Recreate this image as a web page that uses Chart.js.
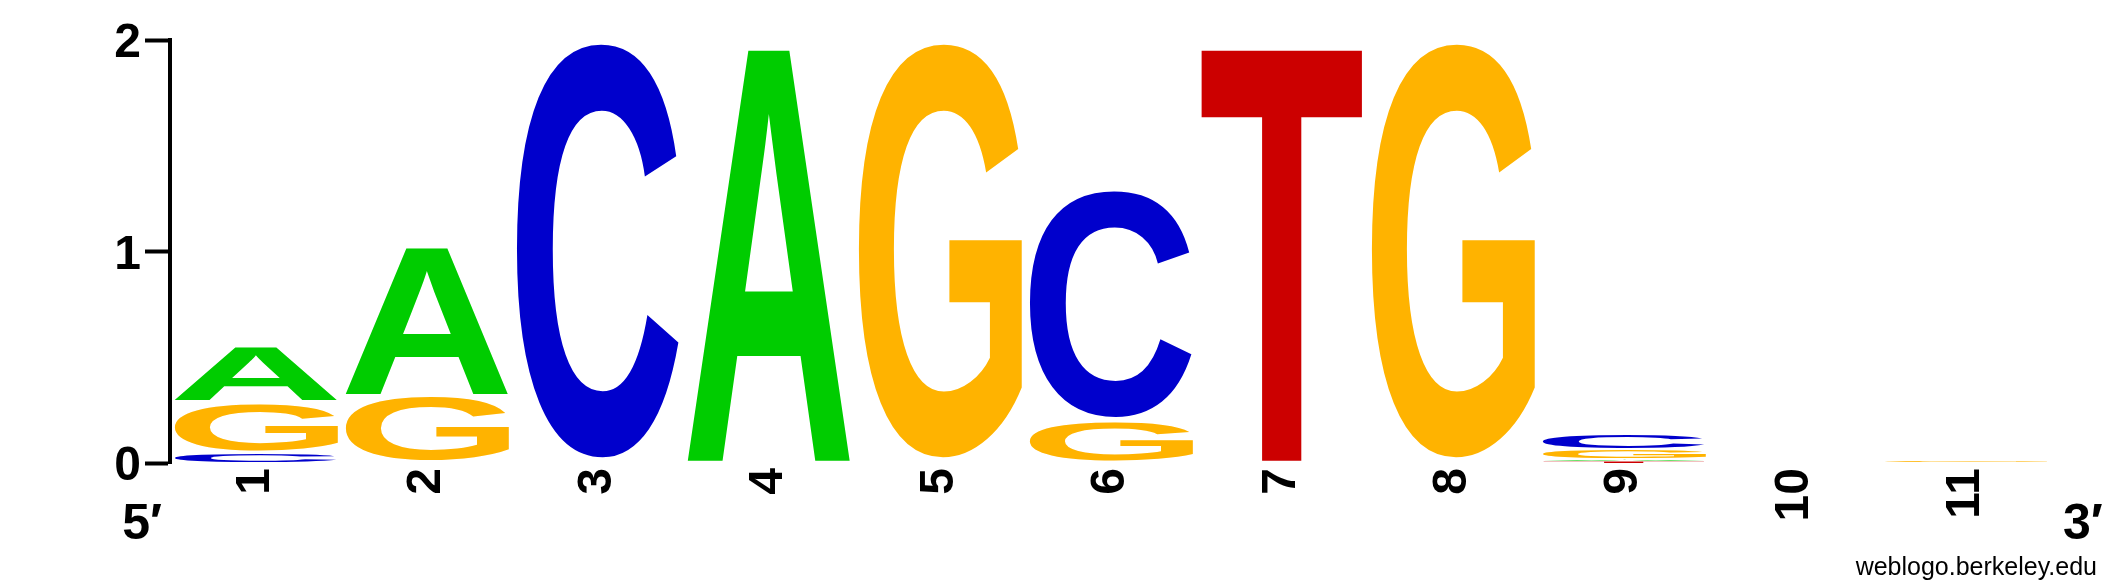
<!DOCTYPE html>
<html>
<head>
<meta charset="utf-8">
<script src="https://cdn.jsdelivr.net/npm/chart.js@4.4.1/dist/chart.umd.min.js"></script>
<style>
  html, body { margin: 0; padding: 0; background: #fff; }
</style>
</head>
<body>
<canvas id="logo" width="2125" height="588"></canvas>
<script>
// positions in the motif (x axis)
const positions = ['1', '2', '3', '4', '5', '6', '7', '8', '9', '10', '11'];
// information content per letter, in bits
const bitsA = [0.27, 0.72, 0, 2.0, 0, 0, 0, 0, 0.01, 0, 0];
const bitsC = [0.05, 0, 2.0, 0, 0, 1.1, 0, 0, 0.075, 0, 0];
const bitsG = [0.24, 0.32, 0, 0, 2.0, 0.2, 0, 2.0, 0.045, 0, 0.01];
const bitsT = [0, 0, 0, 0, 0, 0, 2.0, 0, 0.008, 0, 0];
const yTicks = [0, 1, 2];

const letterColors = { A: '#00cc00', C: '#0000cc', G: '#ffb300', T: '#cc0000' };
const FONT = '"Liberation Sans", Arial, Helvetica, sans-serif';

// build stack layers: smallest letter at the bottom of each column
const byLetter = { A: bitsA, C: bitsC, G: bitsG, T: bitsT };
let layerValues = [[], [], [], []];
let layerLetters = [[], [], [], []];
positions.forEach((p, i) => {
    let col = Object.keys(byLetter).map(l => [l, byLetter[l][i]]);
    col.sort((a, b) => a[1] - b[1]);
    col.forEach((pair, k) => {
        layerLetters[k].push(pair[0]);
        layerValues[k].push(pair[1]);
    });
});

// draws a stretched letter inside every bar rectangle
const letterPlugin = {
    id: 'letters',
    afterDatasetsDraw(chart) {
        const ctx = chart.ctx;
        ctx.save();
        ctx.font = 'bold 400px ' + FONT;
        ctx.textAlign = 'left';
        ctx.textBaseline = 'alphabetic';
        chart.data.datasets.forEach((ds, di) => {
            let meta = chart.getDatasetMeta(di);
            meta.data.forEach((bar, j) => {
                if (!ds.data[j]) return;
                let p = bar.getProps(['x', 'y', 'base', 'width'], true);
                let letter = layerLetters[di][j];
                let left = p.x - p.width / 2;
                let top = Math.min(p.y, p.base);
                let h = Math.abs(p.base - p.y);
                let inset = Math.min(1.8, h * 0.08);
                top += inset;
                h -= inset * 2;
                if (h < 1.5) h = 1.5;
                let m = ctx.measureText(letter);
                let inkW = m.actualBoundingBoxLeft + m.actualBoundingBoxRight;
                let inkH = m.actualBoundingBoxAscent + m.actualBoundingBoxDescent;
                ctx.save();
                ctx.translate(left, top);
                ctx.scale(p.width / inkW, h / inkH);
                ctx.fillStyle = letterColors[letter];
                ctx.fillText(letter, m.actualBoundingBoxLeft, m.actualBoundingBoxAscent);
                ctx.restore();
            });
        });
        ctx.restore();
    },
    afterDraw(chart) {
        const ctx = chart.ctx;
        const area = chart.chartArea;
        ctx.save();
        ctx.fillStyle = '#000';
        ctx.font = 'bold 50px ' + FONT;
        ctx.textBaseline = 'alphabetic';
        ctx.textAlign = 'right';
        ctx.fillText('5\u2032', area.left - 8, area.bottom + 76);
        ctx.textAlign = 'left';
        ctx.fillText('3\u2032', area.right + 12, area.bottom + 76);
        ctx.font = '25px ' + FONT;
        ctx.textAlign = 'right';
        ctx.fillText('weblogo.berkeley.edu', 2097, 575);
        ctx.restore();
    }
};

let datasets = layerValues.map((vals, k) => ({
    label: 'layer ' + k,
    data: vals,
    backgroundColor: 'rgba(0,0,0,0)',
    borderWidth: 0,
    barPercentage: 1,
    categoryPercentage: 0.97
}));

new Chart(document.getElementById('logo').getContext('2d'), {
    type: 'bar',
    data: { labels: positions, datasets: datasets },
    plugins: [letterPlugin],
    options: {
        responsive: false,
        animation: false,
        devicePixelRatio: 1,
        layout: { padding: { top: 40, right: 74, left: 0, bottom: 0 } },
        plugins: { legend: { display: false }, tooltip: { enabled: false } },
        scales: {
            x: {
                stacked: true,
                grid: { display: false },
                border: { display: false },
                afterFit: s => { s.height = 125; },
                ticks: {
                    autoSkip: false,
                    minRotation: 90,
                    maxRotation: 90,
                    padding: -3,
                    color: '#000',
                    font: { family: FONT, size: 48, weight: 'bold' }
                }
            },
            y: {
                stacked: true,
                min: 0,
                max: 2,
                afterFit: s => { s.width = 170; },
                afterBuildTicks: s => { s.ticks = yTicks.map(v => ({ value: v })); },
                grid: {
                    drawOnChartArea: false,
                    drawTicks: true,
                    tickLength: 25,
                    tickWidth: 4,
                    tickColor: '#000'
                },
                border: { display: true, color: '#000', width: 4 },
                ticks: {
                    padding: 4,
                    labelOffset: 4,
                    color: '#000',
                    font: { family: FONT, size: 48, weight: 'bold' }
                }
            }
        }
    }
});
</script>
</body>
</html>
